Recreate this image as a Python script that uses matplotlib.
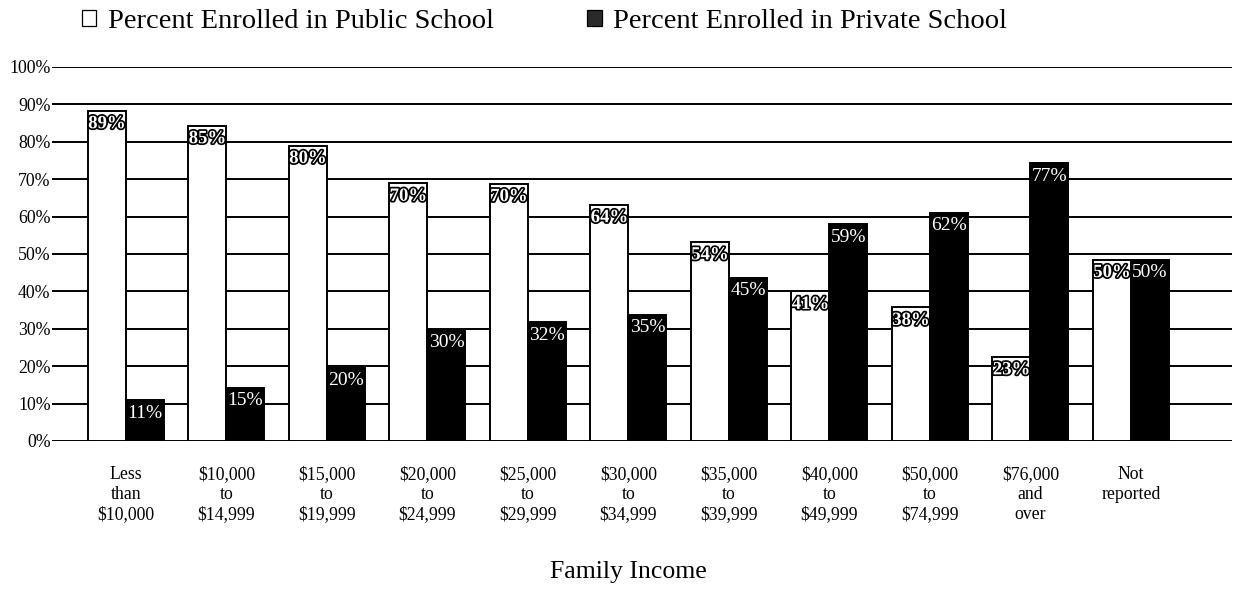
import matplotlib
matplotlib.use("Agg")
import matplotlib.pyplot as plt
import matplotlib.patheffects as pe
from matplotlib.patches import Patch
import numpy as np

plt.rcParams["font.family"] = ["Liberation Serif", "DejaVu Serif"]

# data
categories = ["Less\nthan\n$10,000", "$10,000\nto\n$14,999", "$15,000\nto\n$19,999",
              "$20,000\nto\n$24,999", "$25,000\nto\n$29,999", "$30,000\nto\n$34,999",
              "$35,000\nto\n$39,999", "$40,000\nto\n$49,999", "$50,000\nto\n$74,999",
              "$76,000\nand\nover", "Not\nreported"]
public_labels = [89, 85, 80, 70, 70, 64, 54, 41, 38, 23, 50]
private_labels = [11, 15, 20, 30, 32, 35, 45, 59, 62, 77, 50]
# drawn bar heights (the printed bars sit a bit below their labels)
public_heights = [88.3, 84.3, 79.0, 68.9, 68.8, 63.2, 53.2, 40.0, 35.7, 22.5, 48.5]
private_heights = [10.9, 14.2, 19.6, 29.8, 31.7, 33.8, 43.6, 58.0, 61.0, 74.3, 48.5]
yticks = list(range(0, 101, 10))

fig = plt.figure(figsize=(12.52, 5.89), dpi=100)
ax = fig.add_axes([0.0415, 0.2513, 0.9425, 0.635])

x = np.arange(len(categories))
w = 0.378
ax.bar(x - w / 2, public_heights, w, color="white", edgecolor="black", linewidth=1.4, zorder=3)
ax.bar(x + w / 2, private_heights, w, color="black", edgecolor="black", linewidth=1.4, zorder=3)

outline = [pe.withStroke(linewidth=2.5, foreground="black")]
for xi, h, v in zip(x, public_heights, public_labels):
    ax.text(xi - w / 2, h - 1.2, f"{v}%", ha="center", va="top", fontsize=13.5,
            fontweight="bold", color="white", path_effects=outline, zorder=4)
for xi, h, v in zip(x, private_heights, private_labels):
    ax.text(xi + w / 2, h - 1.2, f"{v}%", ha="center", va="top", fontsize=14,
            color="white", zorder=4)

ax.set_xlim(-0.736, 11.005)
ax.set_ylim(0, 100)
ax.set_yticks(yticks)
ax.set_yticklabels([f"{t}%" for t in yticks], fontsize=12.8)
ax.set_xticks(x)
ax.set_xticklabels(categories, fontsize=12.8, linespacing=1.22)
ax.tick_params(axis="y", length=0, pad=1)
ax.tick_params(axis="x", length=0, pad=18)
ax.yaxis.grid(True, color="black", linewidth=1.4)
ax.set_axisbelow(True)
for s in ax.spines.values():
    s.set_visible(False)

fig.text(0.502, 0.029, "Family Income", ha="center", va="center", fontsize=18.5)

handles = [Patch(facecolor="white", edgecolor="black", linewidth=0.9),
           Patch(facecolor="#2a2a2a", edgecolor="black", linewidth=0.9)]
fig.legend(handles, ["Percent Enrolled in Public School", "Percent Enrolled in Private School"],
           loc="center left", bbox_to_anchor=(0.0655, 0.963), ncol=2, frameon=False,
           fontsize=20.5, handlelength=0.5, handleheight=0.5, handletextpad=0.4,
           columnspacing=3.3, borderaxespad=0, borderpad=0)

fig.savefig("out.png", dpi=100)
